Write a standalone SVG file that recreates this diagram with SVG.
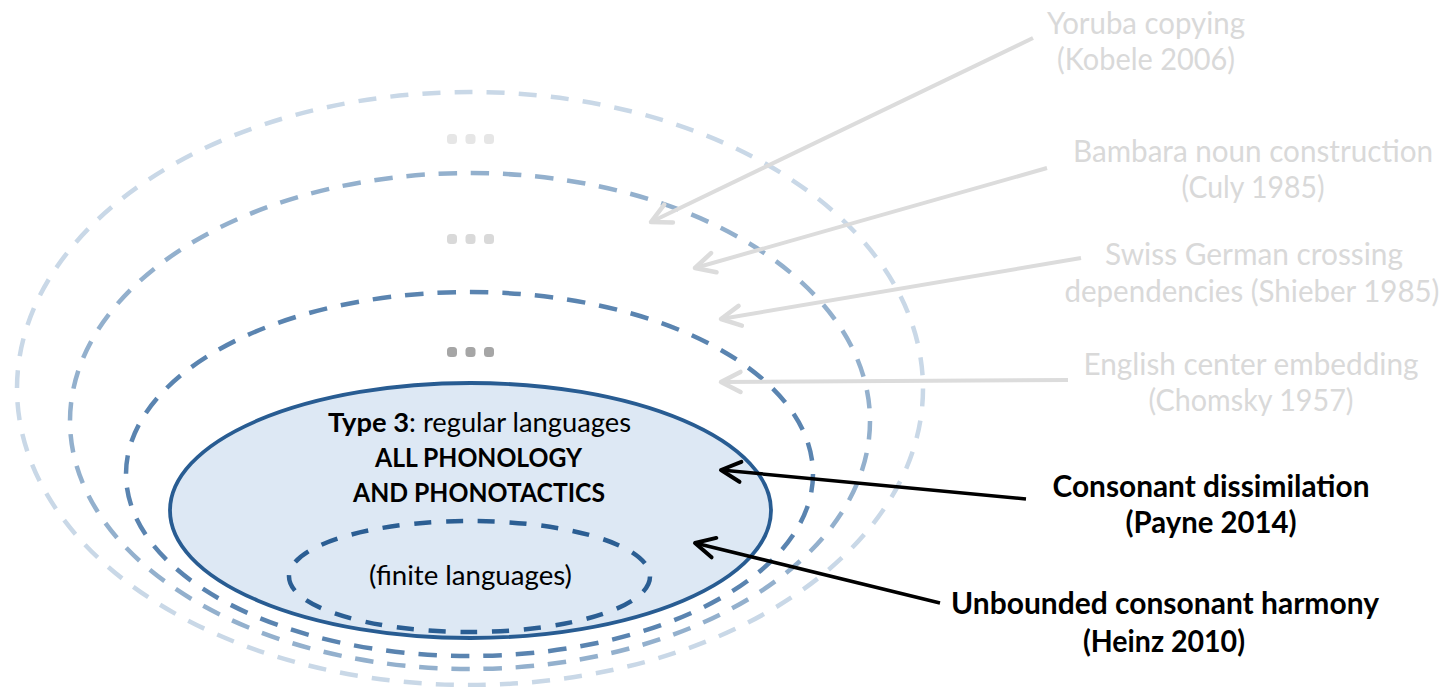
<svg xmlns="http://www.w3.org/2000/svg" width="1447" height="687" viewBox="0 0 1447 687">
  <style>
    .set { fill: none; stroke-width: 4.5; }
    .lvl0 { stroke: #c9d8e7; stroke-dasharray: 18 14.17; }
    .lvl1 { stroke: #93b0cd; stroke-dasharray: 18.5 13.75; }
    .lvl2 { stroke: #5a84b0; stroke-dasharray: 18.5 14; }
    .regular { fill: #dde8f4; stroke: #285c92; stroke-width: 3.8; }
    .finite { fill: none; stroke: #2b5e93; stroke-width: 4.5; stroke-dasharray: 17 14.78; }
    .dot { stroke: none; }
    text { font-family: Lato, "Open Sans", "Liberation Sans", sans-serif; text-anchor: middle; }
    .faint { fill: #d9d9d9; font-size: 30px; }
    .strong { fill: #000; font-size: 30px; font-weight: bold; }
    .inner { fill: #000; font-size: 26px; }
    .innerb { fill: #000; font-size: 26px; font-weight: bold; }
    .conn-faint { fill: none; stroke: #dcdcdc; stroke-width: 4; marker-end: url(#chevFaint); }
    .conn-strong { fill: none; stroke: #000; stroke-width: 3.5; marker-end: url(#chevStrong); }
  </style>
  <defs>
    <marker id="chevFaint" markerUnits="userSpaceOnUse" viewBox="-26 -16 32 32" refX="0" refY="0" markerWidth="32" markerHeight="32" orient="auto">
      <path d="M -19.5 -10 L 0 0 L -19.5 10" fill="none" stroke="#dcdcdc" stroke-width="4.5" stroke-linecap="round" stroke-linejoin="round"/>
    </marker>
    <marker id="chevStrong" markerUnits="userSpaceOnUse" viewBox="-26 -16 32 32" refX="0" refY="0" markerWidth="32" markerHeight="32" orient="auto">
      <path d="M -19.5 -10 L 0 0 L -19.5 10" fill="none" stroke="#000" stroke-width="4" stroke-linecap="round" stroke-linejoin="round"/>
    </marker>
  </defs>

  <rect width="1447" height="687" fill="#ffffff"/>

  <!-- nested language classes, outermost first -->
  <g id="class-outer">
    <ellipse class="set lvl0" cx="470" cy="388.5" rx="453" ry="296.5"/>
    <g class="dot" fill="#e6e6e6">
      <rect x="447" y="134" width="10" height="10" rx="3.5"/>
      <rect x="465.5" y="134" width="10" height="10" rx="3.5"/>
      <rect x="484" y="134" width="10" height="10" rx="3.5"/>
    </g>
  </g>
  <g id="class-middle">
    <ellipse class="set lvl1" cx="470" cy="421" rx="400" ry="248"/>
    <g class="dot" fill="#d9d9d9">
      <rect x="447" y="234" width="10" height="10" rx="3.5"/>
      <rect x="465.5" y="234" width="10" height="10" rx="3.5"/>
      <rect x="484" y="234" width="10" height="10" rx="3.5"/>
    </g>
  </g>
  <g id="class-inner">
    <ellipse class="set lvl2" cx="469.5" cy="474" rx="343.5" ry="182"/>
    <g class="dot" fill="#a6a6a6">
      <rect x="447" y="347" width="10" height="10" rx="3.5"/>
      <rect x="465.5" y="347" width="10" height="10" rx="3.5"/>
      <rect x="484" y="347" width="10" height="10" rx="3.5"/>
    </g>
  </g>
  <g id="type3">
    <ellipse class="regular" cx="470.5" cy="510.5" rx="300.5" ry="127.5"/>
    <text class="inner" x="479.5" y="432" textLength="303" lengthAdjust="spacingAndGlyphs"><tspan font-weight="bold">Type 3</tspan>: regular languages</text>
    <text class="innerb" x="478.5" y="467" textLength="207" lengthAdjust="spacingAndGlyphs">ALL PHONOLOGY</text>
    <text class="innerb" x="479" y="502" textLength="252" lengthAdjust="spacingAndGlyphs">AND PHONOTACTICS</text>
  </g>
  <g id="finite">
    <ellipse class="finite" cx="469.5" cy="576.5" rx="180.5" ry="55.5"/>
    <text class="inner" x="470.5" y="585" textLength="203" lengthAdjust="spacingAndGlyphs">(finite languages)</text>
  </g>

  <!-- example constructions -->
  <g id="yoruba">
    <text class="faint" x="1146" y="34" textLength="198" lengthAdjust="spacingAndGlyphs">Yoruba copying</text>
    <text class="faint" x="1146" y="70" textLength="178" lengthAdjust="spacingAndGlyphs">(Kobele 2006)</text>
  </g>
  <g id="bambara">
    <text class="faint" x="1253" y="162" textLength="360" lengthAdjust="spacingAndGlyphs">Bambara noun construction</text>
    <text class="faint" x="1253" y="198" textLength="143" lengthAdjust="spacingAndGlyphs">(Culy 1985)</text>
  </g>
  <g id="swiss-german">
    <text class="faint" x="1254" y="265" textLength="298" lengthAdjust="spacingAndGlyphs">Swiss German crossing</text>
    <text class="faint" x="1252" y="302" textLength="375" lengthAdjust="spacingAndGlyphs">dependencies (Shieber 1985)</text>
  </g>
  <g id="english">
    <text class="faint" x="1251" y="375" textLength="335" lengthAdjust="spacingAndGlyphs">English center embedding</text>
    <text class="faint" x="1251" y="411" textLength="205" lengthAdjust="spacingAndGlyphs">(Chomsky 1957)</text>
  </g>
  <g id="dissimilation">
    <text class="strong" x="1211" y="497" textLength="317" lengthAdjust="spacingAndGlyphs">Consonant dissimilation</text>
    <text class="strong" x="1211" y="533" textLength="171" lengthAdjust="spacingAndGlyphs">(Payne 2014)</text>
  </g>
  <g id="harmony">
    <text class="strong" x="1165" y="614" textLength="428" lengthAdjust="spacingAndGlyphs">Unbounded consonant harmony</text>
    <text class="strong" x="1164" y="652" textLength="162" lengthAdjust="spacingAndGlyphs">(Heinz 2010)</text>
  </g>

  <!-- connectors -->
  <g id="connectors">
    <path class="conn-faint" d="M 1033 38 L 651 222"/>
    <path class="conn-faint" d="M 1047 168 L 695 268"/>
    <path class="conn-faint" d="M 1081 258 L 721 319"/>
    <path class="conn-faint" d="M 1068 380 L 721 382"/>
    <path class="conn-strong" d="M 1026 499 L 721 470"/>
    <path class="conn-strong" d="M 940 603 L 695 543"/>
  </g>
</svg>
